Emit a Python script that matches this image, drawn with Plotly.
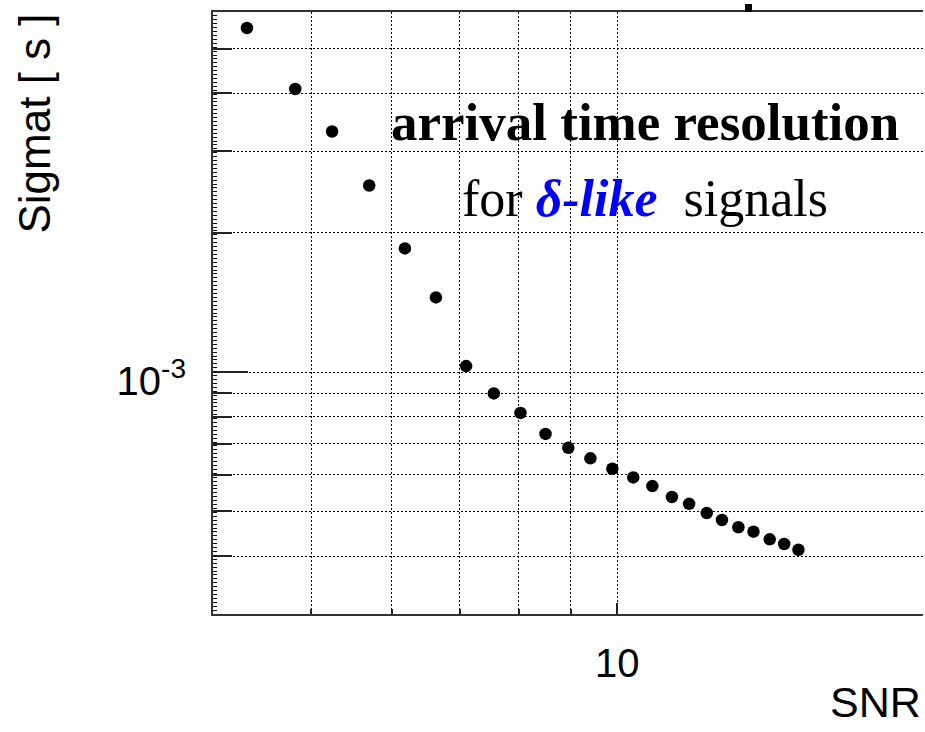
import plotly.graph_objects as go

# Arrival-time resolution versus signal-to-noise ratio (log-log)
snr = [4.32, 4.82, 5.24, 5.70, 6.18, 6.63, 7.10, 7.56, 8.03, 8.50, 8.95, 9.41,
       9.89, 10.37, 10.83, 11.32, 11.77, 12.25, 12.68, 13.16, 13.62, 14.13, 14.60, 15.08]
sigma_t = [5.54e-3, 4.09e-3, 3.31e-3, 2.53e-3, 1.85e-3, 1.45e-3, 1.03e-3, 0.899e-3,
           0.816e-3, 0.735e-3, 0.686e-3, 0.651e-3, 0.618e-3, 0.592e-3, 0.567e-3,
           0.537e-3, 0.519e-3, 0.496e-3, 0.479e-3, 0.462e-3, 0.452e-3, 0.435e-3,
           0.425e-3, 0.413e-3]

x_major = [10]
x_major_text = ["10"]
x_minor = [4, 5, 6, 7, 8, 9, 20]
y_major = [1e-3]
y_major_text = ["10<sup>-3</sup>"]
y_minor = [4e-4, 5e-4, 6e-4, 7e-4, 8e-4, 9e-4, 2e-3, 3e-3, 4e-3, 5e-3]

SANS = "Liberation Sans, Arial, sans-serif"
SERIF = "Liberation Serif, Times New Roman, serif"
GRID_DASH = "2px,2px"
GRID_COLOR = "black"
GRID_WIDTH = 1

fig = go.Figure()
fig.add_trace(go.Scatter(
    x=snr, y=sigma_t, mode="markers",
    marker=dict(color="black", size=12.5, symbol="circle"),
    showlegend=False, hoverinfo="x+y",
))
# empty trace that attaches the fine ruler ticks along the left edge
fig.add_trace(go.Scatter(x=[], y=[], yaxis="y2", showlegend=False, hoverinfo="skip"))

fig.update_layout(
    width=925, height=732,
    margin=dict(l=213, r=2, t=12, b=118),
    paper_bgcolor="white", plot_bgcolor="white",
    font=dict(family=SANS, color="black"),
    xaxis=dict(
        type="log", range=[0.60206, 1.30103],
        tickmode="array", tickvals=x_major, ticktext=x_major_text,
        ticks="inside", ticklen=11, tickwidth=2, tickcolor="#222",
        tickfont=dict(family=SANS, size=40, color="black"),
        ticklabelstandoff=13,
        showgrid=True, gridcolor=GRID_COLOR, gridwidth=GRID_WIDTH, griddash=GRID_DASH,
        minor=dict(tickmode="array", tickvals=x_minor, ticks="inside", ticklen=5,
                   tickwidth=2, tickcolor="#222", showgrid=True,
                   gridcolor=GRID_COLOR, gridwidth=GRID_WIDTH, griddash=GRID_DASH),
        showline=True, linewidth=2, linecolor="#333", mirror=True,
        zeroline=False,
    ),
    yaxis=dict(
        type="log", range=[-3.52288, -2.22185],
        tickmode="array", tickvals=y_major, ticktext=y_major_text,
        ticks="inside", ticklen=35, tickwidth=2, tickcolor="#222",
        tickfont=dict(family=SANS, size=40, color="black"),
        ticklabelstandoff=17, ticklabelshift=9,
        showgrid=True, gridcolor=GRID_COLOR, gridwidth=GRID_WIDTH, griddash=GRID_DASH,
        minor=dict(tickmode="array", tickvals=y_minor, ticks="inside", ticklen=19,
                   tickwidth=2, tickcolor="#222", showgrid=True,
                   gridcolor=GRID_COLOR, gridwidth=GRID_WIDTH, griddash=GRID_DASH),
        showline=True, linewidth=2, linecolor="#333", mirror=False,
        zeroline=False,
    ),
    yaxis2=dict(
        overlaying="y", side="left", anchor="x", range=[0, 154],
        tickmode="linear", tick0=0, dtick=1,
        ticks="inside", ticklen=4, tickwidth=1, tickcolor="#111",
        showticklabels=False, showgrid=False, showline=False, zeroline=False,
    ),
)

fig.add_annotation(
    text="Sigmat [ s ]", textangle=-90,
    xref="paper", yref="paper", x=-0.2521, y=0.8148,
    xanchor="center", yanchor="middle", showarrow=False,
    font=dict(family=SANS, size=44, color="black"),
)
fig.add_annotation(
    text="SNR",
    xref="paper", yref="paper", x=1.0, y=-0.147,
    xanchor="right", yanchor="middle", showarrow=False,
    font=dict(family=SANS, size=43, color="black"),
)
fig.add_annotation(
    text="<b>arrival time resolution</b>",
    xref="paper", yref="paper", x=0.6085, y=0.8173,
    xanchor="center", yanchor="middle", showarrow=False,
    font=dict(family=SERIF, size=53, color="black"),
)
fig.add_annotation(
    text="for <span style='color:#0000ff'><b><i>\u03b4-like</i></b></span>\u00a0\u00a0signals",
    xref="paper", yref="paper", x=0.6085, y=0.6910,
    xanchor="center", yanchor="middle", showarrow=False,
    font=dict(family=SERIF, size=52, color="black"),
)
# small mark sitting on the top frame
fig.add_shape(type="rect", xref="paper", yref="paper",
              x0=0.7493, x1=0.7592, y0=1.0, y1=1.0133,
              fillcolor="black", line=dict(width=0))

fig.write_html("out.html")
